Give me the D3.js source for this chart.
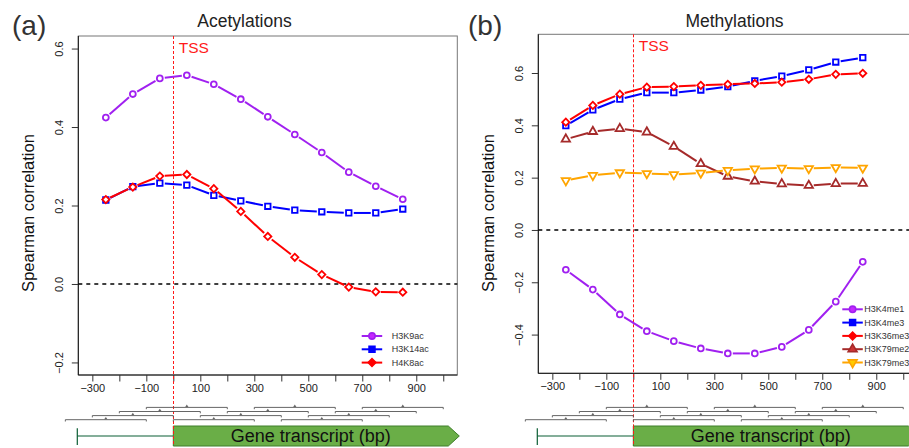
<!DOCTYPE html>
<html>
<head>
<meta charset="utf-8">
<script src="https://cdn.jsdelivr.net/npm/d3@7"></script>
<style>
  body { margin: 0; background: #fff; }
  svg { display: block; font-family: "Liberation Sans", Arial, Helvetica, sans-serif; }
</style>
</head>
<body>
<svg id="chart" width="909" height="448"></svg>
<script>
// bin centres in bp relative to the TSS (each bin is a 300 bp window)
var positions = [-250, -150, -50, 50, 150, 250, 350, 450, 550, 650, 750, 850];
var windowWidth = 300;
var xTicks = [-300, -200, -100, 0, 100, 200, 300, 400, 500, 600, 700, 800, 900, 1000];
var xLabels = [-300, -100, 100, 300, 500, 700, 900];

// acetylations
var h3k9ac = [0.424, 0.484, 0.524, 0.532, 0.509, 0.471, 0.426, 0.381, 0.335, 0.285, 0.249, 0.216];
var h3k14ac = [0.214, 0.248, 0.257, 0.252, 0.226, 0.212, 0.198, 0.188, 0.184, 0.181, 0.181, 0.191];
var h4k8ac = [0.215, 0.247, 0.275, 0.279, 0.243, 0.185, 0.121, 0.068, 0.024, -0.008, -0.020, -0.021];
var acetylTicks = [-0.2, 0, 0.2, 0.4, 0.6];

// methylations
var h3k4me1 = [-0.152, -0.228, -0.323, -0.387, -0.425, -0.453, -0.472, -0.472, -0.447, -0.382, -0.274, -0.122];
var h3k4me3 = [0.399, 0.459, 0.500, 0.525, 0.525, 0.535, 0.548, 0.570, 0.588, 0.612, 0.642, 0.659];
var h3k36me3 = [0.412, 0.476, 0.519, 0.546, 0.548, 0.553, 0.557, 0.560, 0.565, 0.576, 0.595, 0.599];
var h3k79me2 = [0.347, 0.376, 0.387, 0.374, 0.319, 0.253, 0.205, 0.186, 0.176, 0.170, 0.177, 0.178];
var h3k79me3 = [0.189, 0.209, 0.219, 0.216, 0.212, 0.218, 0.228, 0.234, 0.237, 0.235, 0.239, 0.237];
var methylTicks = [-0.4, -0.2, 0, 0.2, 0.4, 0.6];

var svg = d3.select("#chart");

var panels = [
    {
        tag: "(a)", tagX: 12, title: "Acetylations", titleX: 244.5,
        left: 78.3, right: 457.3, top: 36, bottom: 375,
        yDomain: [-0.232, 0.632], yTicks: acetylTicks,
        legendX: 361.7, legendY: 336, legendText: 391.7,
        series: [
            { name: "H3K9ac", values: h3k9ac, color: "#A020F0", shape: "circle" },
            { name: "H3K14ac", values: h3k14ac, color: "#0000FF", shape: "square" },
            { name: "H4K8ac", values: h4k8ac, color: "#FF0000", shape: "diamond" }
        ]
    },
    {
        tag: "(b)", tagX: 468, title: "Methylations", titleX: 734.5,
        left: 538.3, right: 917.3, top: 34.3, bottom: 373.3,
        yDomain: [-0.548, 0.748], yTicks: methylTicks,
        legendX: 842.3, legendY: 309.3, legendText: 864.3,
        series: [
            { name: "H3K4me1", values: h3k4me1, color: "#A020F0", shape: "circle" },
            { name: "H3K4me3", values: h3k4me3, color: "#0000FF", shape: "square" },
            { name: "H3K36me3", values: h3k36me3, color: "#FF0000", shape: "diamond" },
            { name: "H3K79me2", values: h3k79me2, color: "#A52A2A", shape: "up" },
            { name: "H3K79me3", values: h3k79me3, color: "#FFA500", shape: "down" }
        ]
    }
];

function markerPath(shape, big) {
    var k = big ? 1.15 : 1;
    if (shape === "circle") return d3.symbol(d3.symbolCircle, 27 * k)();
    if (shape === "square") return d3.symbol(d3.symbolSquare, 30 * k)();
    if (shape === "diamond") return d3.symbol(d3.symbolSquare, 26 * k)();
    return d3.symbol(d3.symbolTriangle, 30 * k)();
}

function markerRotate(shape) {
    if (shape === "diamond") return 45;
    if (shape === "down") return 180;
    return 0;
}

function tssLine(g, xPos, y1, y2) {
    g.append("line").attr("x1", xPos).attr("x2", xPos)
        .attr("y1", y1).attr("y2", y2)
        .attr("stroke", "#ff1a1a").attr("stroke-width", 1).attr("stroke-dasharray", "3,2");
}

function drawPanel(p) {
    var x = d3.scaleLinear().domain([-352, 1052]).range([p.left, p.right]);
    var y = d3.scaleLinear().domain(p.yDomain).range([p.bottom, p.top]);
    var tssX = Math.floor(x(0)) + 0.5;
    var g = svg.append("g");

    // panel tag and title
    g.append("text").attr("x", p.tagX).attr("y", 35)
        .style("font-size", "28px").style("fill", "#333").text(p.tag);
    g.append("text").attr("x", p.titleX).attr("y", 26.5).attr("text-anchor", "middle")
        .style("font-size", "17.5px").style("fill", "#222").text(p.title);

    // frame
    g.append("rect").attr("x", p.left).attr("y", p.top)
        .attr("width", p.right - p.left).attr("height", p.bottom - p.top)
        .attr("fill", "none").attr("stroke", "#777").attr("stroke-width", 1);

    // y axis, labels rotated like R
    var yAxis = d3.axisLeft(y).tickValues(p.yTicks).tickSize(6.5).tickFormat(d3.format(".1f"));
    var ya = g.append("g").attr("transform", "translate(" + p.left + ",0)").call(yAxis);
    ya.select(".domain").attr("stroke", "#111").attr("d", "M0," + p.top + "V" + p.bottom);
    ya.selectAll(".tick line").attr("stroke", "#333");
    ya.selectAll(".tick text")
        .attr("x", null).attr("dy", null)
        .attr("transform", "translate(-15.6,0) rotate(-90)")
        .attr("text-anchor", "middle")
        .style("font-size", "11px").style("fill", "#222")
        .style("font-family", "inherit")
        .text(function (d) { return d3.format(".1f")(d).replace("-", "\u2212"); });

    // x axis, ticks every 100 bp, labels every 200
    var xAxis = d3.axisBottom(x).tickValues(xTicks).tickSize(6.5)
        .tickFormat(function (d) { return xLabels.indexOf(d) >= 0 ? String(d).replace("-", "\u2212") : ""; });
    var xa = g.append("g").attr("transform", "translate(0," + p.bottom + ")").call(xAxis);
    xa.select(".domain").attr("stroke", "#111").attr("d", "M" + p.left + ",0H" + p.right);
    xa.selectAll(".tick line").attr("stroke", "#333");
    xa.selectAll(".tick text").attr("y", 17).attr("dy", null)
        .style("font-size", "11px").style("fill", "#222").style("font-family", "inherit");

    // y label
    g.append("text").attr("transform", "translate(" + (p.left - 44.8) + ",213) rotate(-90)")
        .attr("text-anchor", "middle").style("font-size", "16.5px").style("fill", "#111")
        .text("Spearman correlation");

    // zero line
    g.append("line").attr("x1", p.left).attr("x2", p.right)
        .attr("y1", y(0)).attr("y2", y(0))
        .attr("stroke", "#000").attr("stroke-width", 1.4).attr("stroke-dasharray", "4,4");

    // TSS marker
    tssLine(g, tssX, p.top, 446);
    g.append("text").attr("x", x(0) + 5.5).attr("y", p.top + 17)
        .style("font-size", "15.5px").style("fill", "#ff1a1a").text("TSS");

    // series: R type "b", line segments stop short of the markers
    var gap = 5;
    p.series.forEach(function (s) {
        var pts = positions.map(function (d, i) { return [x(d), y(s.values[i])]; });
        var segs = d3.pairs(pts).map(function (pair) {
            var dx = pair[1][0] - pair[0][0], dy = pair[1][1] - pair[0][1];
            var len = Math.sqrt(dx * dx + dy * dy);
            if (len <= 2 * gap) return null;
            var ux = dx / len, uy = dy / len;
            return [pair[0][0] + ux * gap, pair[0][1] + uy * gap, pair[1][0] - ux * gap, pair[1][1] - uy * gap];
        }).filter(function (d) { return d; });
        g.append("g").selectAll("line").data(segs).join("line")
            .attr("x1", function (d) { return d[0]; }).attr("y1", function (d) { return d[1]; })
            .attr("x2", function (d) { return d[2]; }).attr("y2", function (d) { return d[3]; })
            .attr("stroke", s.color).attr("stroke-width", 2);
        g.append("g").selectAll("path").data(pts).join("path")
            .attr("d", markerPath(s.shape))
            .attr("transform", function (d) { return "translate(" + d[0] + "," + d[1] + ") rotate(" + markerRotate(s.shape) + ")"; })
            .attr("fill", "#fff").attr("stroke", s.color).attr("stroke-width", 1.8);
    });

    // legend
    p.series.forEach(function (s, i) {
        var ly = p.legendY + i * 13.3;
        var lg = g.append("g");
        lg.append("line").attr("x1", p.legendX).attr("x2", p.legendX + 20.5)
            .attr("y1", ly).attr("y2", ly).attr("stroke", s.color).attr("stroke-width", 2);
        lg.append("path").attr("d", markerPath(s.shape, true))
            .attr("transform", "translate(" + (p.legendX + 10.3) + "," + ly + ") rotate(" + markerRotate(s.shape) + ")")
            .attr("fill", d3.color(s.color).brighter(0.6)).attr("stroke", s.color).attr("stroke-width", 1.6);
        lg.append("text").attr("x", p.legendText).attr("y", ly).attr("dy", "0.35em")
            .style("font-size", "9px").style("fill", "#333").text(s.name);
    });

    // 300 bp windows as staggered brackets under the axis
    var bg = g.append("g").attr("stroke", "#555").attr("fill", "none").attr("stroke-width", 0.9);
    positions.forEach(function (c, i) {
        var by = 419.7 - 4.1 * (i % 4);
        var a = x(c - windowWidth / 2), b = x(c + windowWidth / 2);
        bg.append("path").attr("d", "M" + a + "," + (by + 1.8) + "V" + by + "H" + b + "V" + (by + 1.8));
        bg.append("path").attr("d", "M" + (x(c) - 1.6) + "," + (by - 0.4) + "L" + x(c) + "," + (by - 2.8) + "L" + (x(c) + 1.6) + "," + (by - 0.4) + "Z")
            .attr("fill", "#666").attr("stroke", "none");
    });

    // promoter line and gene body arrow
    var geneTop = 426, geneBot = 446, geneMid = 436;
    var tip = p.right + 2, shoulder = p.right - 9;
    g.append("line").attr("x1", p.left - 1).attr("x2", x(0)).attr("y1", geneMid).attr("y2", geneMid)
        .attr("stroke", "#0b5e34").attr("stroke-width", 1.2);
    g.append("line").attr("x1", p.left - 1).attr("x2", p.left - 1).attr("y1", 428.3).attr("y2", 445)
        .attr("stroke", "#0b5e34").attr("stroke-width", 1.2);
    g.append("path")
        .attr("d", "M" + x(0) + "," + geneTop + "H" + shoulder + "L" + tip + "," + geneMid + "L" + shoulder + "," + geneBot + "H" + x(0) + "Z")
        .attr("fill", "#6aae47").attr("stroke", "#3f7f2a").attr("stroke-width", 1);
    g.append("text").attr("x", (x(0) + shoulder) / 2).attr("y", 441.8).attr("text-anchor", "middle")
        .style("font-size", "18px").style("fill", "#111").text("Gene transcript (bp)");

    // redraw TSS over the arrow edge
    tssLine(g, tssX, geneTop, 446);
}

panels.forEach(drawPanel);
</script>
</body>
</html>
